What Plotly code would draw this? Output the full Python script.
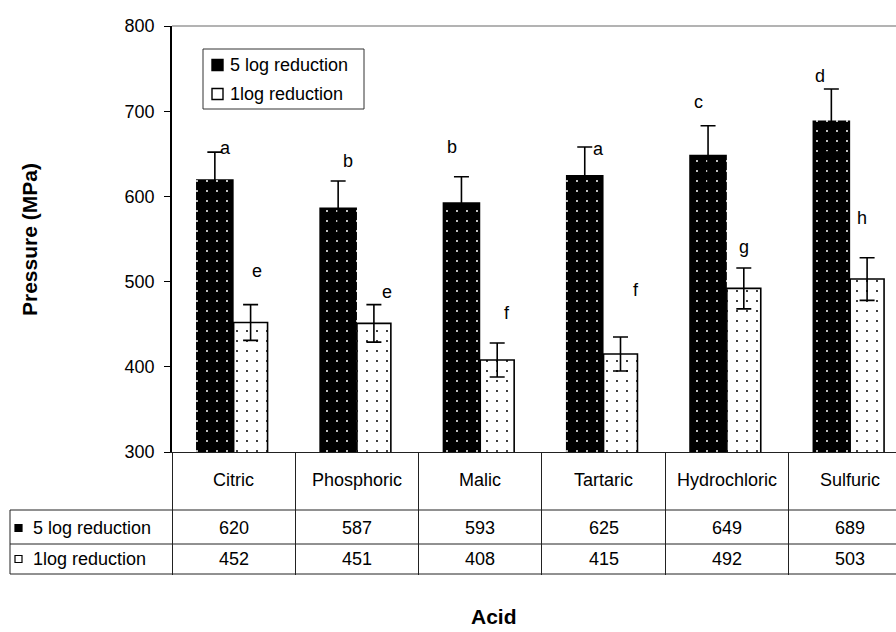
import plotly.graph_objects as go

# ---- data -------------------------------------------------------------
acids = ["Citric", "Phosphoric", "Malic", "Tartaric", "Hydrochloric", "Sulfuric"]
series_names = ["5 log reduction", "1log reduction"]
pressure_5log = [620, 587, 593, 625, 649, 689]
pressure_1log = [452, 451, 408, 415, 492, 503]
err_5log = [32, 31, 30, 33, 34, 37]
err_1log = [21, 22, 20, 20, 24, 25]
letters_5log = ["a", "b", "b", "a", "c", "d"]
letters_1log = ["e", "e", "f", "f", "g", "h"]
y_ticks = [300, 400, 500, 600, 700, 800]

# ---- layout geometry (pixels) -----------------------------------------
W, H = 896, 632
L, T, B = 172, 26, 180
PW, PH = W - L, H - T - B
AX_BOTTOM = H - B
TABLE_BOTTOM = 574


def px(x):
    """pixel column -> paper x"""
    return (x - L) / PW


def py(y):
    """pixel row -> paper y"""
    return (AX_BOTTOM - y) / PH


FONT = "Arial, Liberation Sans, sans-serif"
LINE = "#222222"
TXT = dict(family=FONT, size=18, color="black")

idx = list(range(len(acids)))

fig = go.Figure()

fig.add_trace(go.Bar(
    name=series_names[0], x=idx, y=pressure_5log,
    offset=-0.305, width=0.305,
    marker=dict(color="black", line=dict(width=0),
                pattern=dict(shape=".", size=10, solidity=0.03,
                             fgcolor="white", bgcolor="black", fillmode="replace")),
    error_y=dict(type="data", array=err_5log, color="black", thickness=1.6, width=7.5),
    showlegend=False,
))
fig.add_trace(go.Bar(
    name=series_names[1], x=idx, y=pressure_1log,
    offset=0.0, width=0.275,
    marker=dict(color="white", line=dict(width=1.6, color="black"),
                pattern=dict(shape=".", size=10, solidity=0.03,
                             fgcolor="black", bgcolor="white", fillmode="replace")),
    error_y=dict(type="data", array=err_1log, color="black", thickness=1.6, width=7.5),
    showlegend=False,
))

annotations = []
shapes = []


def label(x, y, text, xref="paper", yref="paper", xanchor="center", font=TXT, **kw):
    annotations.append(dict(x=x, y=y, xref=xref, yref=yref, text=text,
                            showarrow=False, xanchor=xanchor, yanchor="middle",
                            font=font, **kw))


# significance letters
dx_5 = [-0.063, -0.072, -0.23, -0.045, -0.226, -0.246]
yv_5 = [657, 641, 658, 656, 711, 741]
dx_1 = [0.19, 0.244, 0.217, 0.264, 0.139, 0.093]
yv_1 = [513, 488, 463, 490, 541, 575]
for i in idx:
    label(i + dx_5[i], yv_5[i], letters_5log[i], xref="x", yref="y")
    label(i + dx_1[i], yv_1[i], letters_1log[i], xref="x", yref="y")

# data table below the plot
for yl in [510, 544, TABLE_BOTTOM]:
    shapes.append(dict(type="line", xref="paper", yref="paper",
                       x0=px(10), x1=1.0, y0=py(yl), y1=py(yl),
                       line=dict(color=LINE, width=1)))
shapes.append(dict(type="line", xref="paper", yref="paper",
                   x0=px(10), x1=px(10), y0=py(510), y1=py(TABLE_BOTTOM),
                   line=dict(color=LINE, width=1)))

for i in idx:
    label(i, py(480), acids[i], xref="x")
    label(i, py(528), f"{pressure_5log[i]:d}", xref="x")
    label(i, py(559), f"{pressure_1log[i]:d}", xref="x")

# table row keys
for yc, name, fill in [(528, series_names[0], "black"), (559, series_names[1], "white")]:
    shapes.append(dict(type="rect", xref="paper", yref="paper",
                       x0=px(15), x1=px(22), y0=py(yc - 3.5), y1=py(yc + 3.5),
                       fillcolor=fill, line=dict(color="black", width=1.2)))
    label(px(31), py(yc), name, xanchor="left")

# legend box
shapes.append(dict(type="rect", xref="paper", yref="paper",
                   x0=px(203), x1=px(364), y0=py(49), y1=py(109),
                   fillcolor="white", line=dict(color="#333333", width=1), layer="above"))
for yc, name, fill in [(65, series_names[0], "black"), (94, series_names[1], "white")]:
    shapes.append(dict(type="rect", xref="paper", yref="paper",
                       x0=px(212), x1=px(223), y0=py(yc - 5.5), y1=py(yc + 5.5),
                       fillcolor=fill, line=dict(color="black", width=1.4), layer="above"))
    label(px(228), py(yc), name, xanchor="left")

# plot area top border
shapes.append(dict(type="line", xref="paper", yref="paper", x0=0, x1=1, y0=1, y1=1,
                   line=dict(color="#9a9a9a", width=1.5)))

# axis titles
TITLE = dict(family=FONT, size=21, color="black")
label(px(30), py(240), "<b>Pressure (MPa)</b>", font=TITLE, textangle=-90)
label(px(494), py(616), "<b>Acid</b>", font=TITLE, borderpad=0)

col_w = 123.3
fig.update_layout(
    width=W, height=H,
    margin=dict(l=L, r=0, t=T, b=B, pad=0),
    paper_bgcolor="white", plot_bgcolor="white",
    barmode="overlay",
    showlegend=False,
    annotations=annotations,
    shapes=shapes,
    xaxis=dict(
        type="linear", range=[-0.5, -0.5 + PW / col_w],
        tickmode="array", tickvals=[i - 0.5 for i in idx],
        showticklabels=False, ticks="outside", ticklen=TABLE_BOTTOM - AX_BOTTOM,
        tickcolor=LINE, tickwidth=1,
        showline=True, linecolor=LINE, linewidth=1,
        showgrid=False, zeroline=False,
    ),
    yaxis=dict(
        range=[300, 800], tickvals=y_ticks,
        ticks="outside", ticklen=6, tickcolor="black", tickwidth=1,
        showline=True, linecolor="black", linewidth=1.5,
        showgrid=False, zeroline=False,
        tickfont=TXT,
        ticklabelstandoff=6,
    ),
)

fig.write_html("out.html")
